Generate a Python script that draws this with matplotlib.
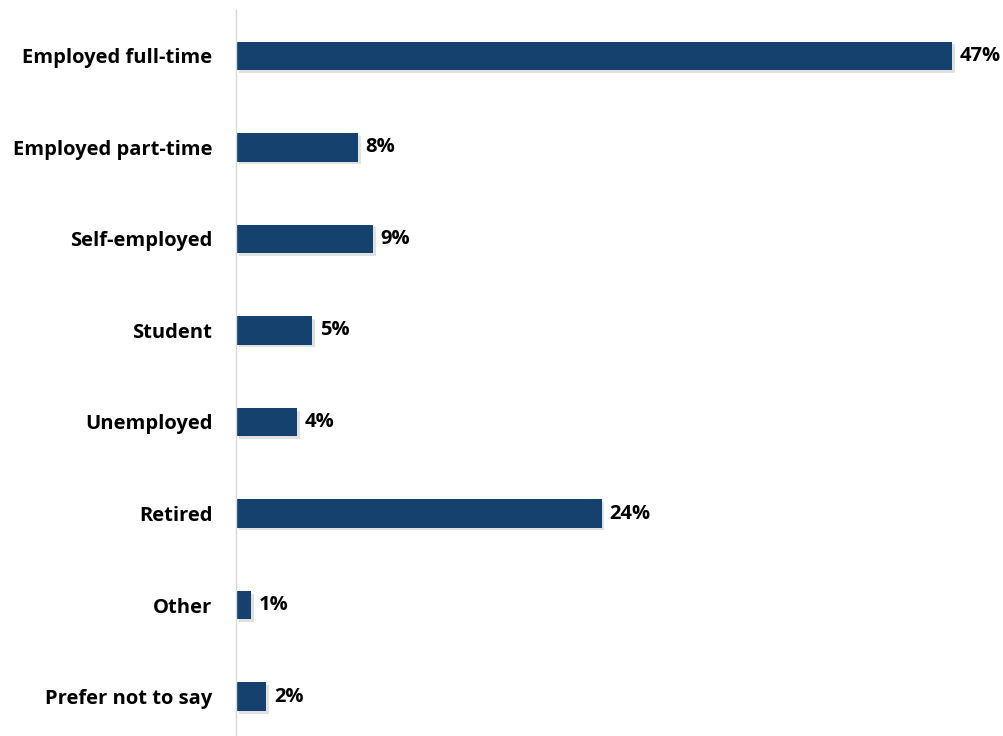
import matplotlib.pyplot as plt
import matplotlib.patheffects as pe

categories = ["Employed full-time", "Employed part-time", "Self-employed", "Student",
              "Unemployed", "Retired", "Other", "Prefer not to say"]
values = [47, 8, 9, 5, 4, 24, 1, 2]

plt.rcParams['font.family'] = ['Open Sans', 'DejaVu Sans']

fig = plt.figure(figsize=(10.04, 7.36), dpi=100)
ax = fig.add_axes([236 / 1004, 0, 1 - 236 / 1004, 726 / 736])

pos = list(range(len(categories)))
bars = ax.barh(pos, values, height=0.31, color="#15416e", zorder=2)
for b in bars:
    b.set_path_effects([pe.SimplePatchShadow(offset=(2, -2), alpha=0.25, shadow_rgbFace="#888888"),
                        pe.Normal()])

for y, v in zip(pos, values):
    ax.text(v + 0.5, y, f"{v}%", va="center", ha="left", fontsize=14.5, fontweight="bold",
            color="black")

ax.set_xlim(0, 50.4)
ax.set_ylim(7.43, -0.5)
ax.set_yticks(pos)
ax.set_yticklabels(categories, fontsize=14.5, fontweight="bold", color="black")
ax.tick_params(axis="y", length=0, pad=17)
ax.set_xticks([])
for s in ["top", "right", "bottom"]:
    ax.spines[s].set_visible(False)
ax.spines["left"].set_color("#d9d9d9")
ax.spines["left"].set_linewidth(1)

fig.savefig("out.png", dpi=100)
